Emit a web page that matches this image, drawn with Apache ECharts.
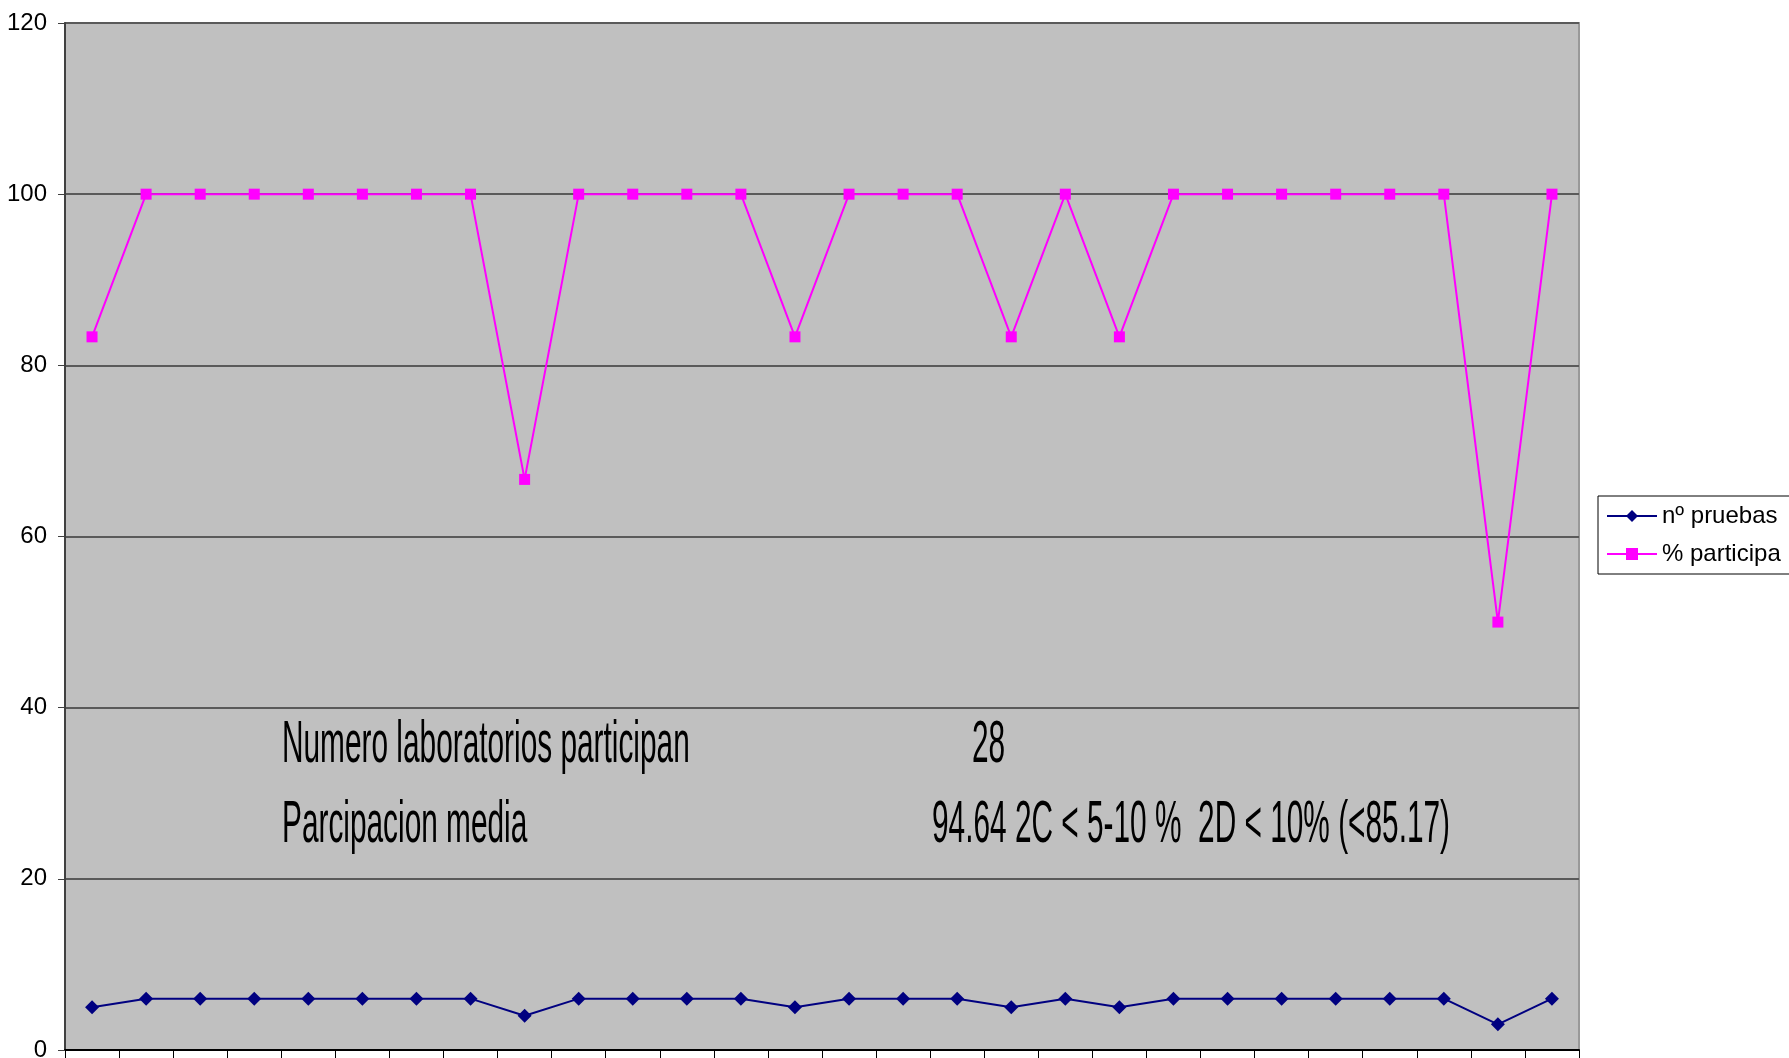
<!DOCTYPE html>
<html>
<head>
<meta charset="utf-8">
<script src="https://cdn.jsdelivr.net/npm/echarts@6/dist/echarts.min.js"></script>
<style>html,body{margin:0;padding:0;background:#fff}#c{width:1789px;height:1058px}</style>
</head>
<body>
<div id="c"></div>
<script>
var categories = ['1','2','3','4','5','6','7','8','9','10','11','12','13','14','15','16','17','18','19','20','21','22','23','24','25','26','27','28'];
var pruebas = [5,6,6,6,6,6,6,6,4,6,6,6,6,5,6,6,6,5,6,5,6,6,6,6,6,6,3,6];
var participa = [83.33,100,100,100,100,100,100,100,66.67,100,100,100,100,83.33,100,100,100,83.33,100,83.33,100,100,100,100,100,100,50,100];
var seriesNames = ['nº pruebas', '% participa'];
var yTicks = {min: 0, max: 120, interval: 20};
var noteLabels = ['Numero laboratorios participan', 'Parcipacion media'];
var noteValues = ['28', '94.64 2C < 5-10 %  2D < 10% (<85.17)'];

var chart = echarts.init(document.getElementById('c'), null, {renderer: 'canvas'});
var noteFont = '60px "Liberation Sans", Arial, sans-serif';
var sx = 0.497;
function note(txt, x, y) {
  return {type: 'text', x: x, y: y, scaleX: sx, z: 50,
    style: {text: txt, x: 0, y: 0, font: noteFont, fill: '#000', verticalAlign: 'middle', align: 'left'}};
}
chart.setOption({
  animation: false,
  backgroundColor: '#ffffff',
  grid: {left: 65, top: 23, right: 210, bottom: 8, outerBoundsMode: 'none', show: true, backgroundColor: '#C0C0C0', borderColor: '#999999', borderWidth: 2},
  legend: {
    left: 1598, top: 496, orient: 'vertical',
    backgroundColor: '#ffffff', borderColor: '#000000', borderWidth: 1,
    padding: [8, 30, 8, 8], itemGap: 14, itemWidth: 50, itemHeight: 15,
    textStyle: {fontFamily: '"Liberation Sans", Arial, sans-serif', fontSize: 24, color: '#000'},
    data: seriesNames
  },
  xAxis: {
    type: 'category', data: categories, boundaryGap: true,
    axisLine: {lineStyle: {color: '#000', width: 2}},
    axisTick: {show: true, interval: 0, length: 10, lineStyle: {color: '#000', width: 1}},
    axisLabel: {show: false},
    splitLine: {show: false}
  },
  yAxis: {
    type: 'value', min: yTicks.min, max: yTicks.max, interval: yTicks.interval,
    axisLine: {show: true, lineStyle: {color: '#404040', width: 2}},
    axisTick: {show: true, length: 7, lineStyle: {color: '#404040', width: 1}},
    axisLabel: {margin: 18, fontSize: 24, color: '#000', fontFamily: '"Liberation Sans", Arial, sans-serif'},
    splitLine: {show: true, lineStyle: {color: '#5a5a5a', width: 2}}
  },
  series: [
    {name: seriesNames[0], type: 'line', data: pruebas, symbol: 'diamond', symbolSize: 14,
     itemStyle: {color: '#000080'}, lineStyle: {color: '#000080', width: 2}, z: 3},
    {name: seriesNames[1], type: 'line', data: participa, symbol: 'rect', symbolSize: 11,
     itemStyle: {color: '#FF00FF'}, lineStyle: {color: '#FF00FF', width: 2}, z: 4}
  ],
  graphic: [
    note(noteLabels[0], 282, 745),
    note(noteLabels[1], 282, 825),
    note(noteValues[0], 972, 745),
    note(noteValues[1], 932, 825)
  ]
});
</script>
</body>
</html>
